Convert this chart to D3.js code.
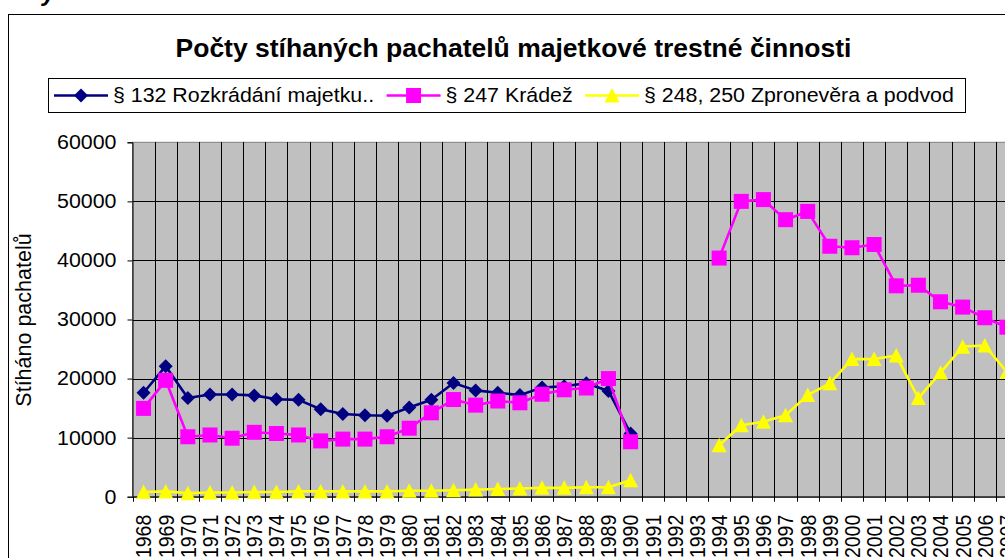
<!DOCTYPE html>
<html>
<head>
<meta charset="utf-8">
<script src="https://cdn.jsdelivr.net/npm/d3@7"></script>
<style>
  html, body { margin: 0; padding: 0; background: #fff; overflow: hidden; }
  svg { display: block; font-family: Arial, "Liberation Sans", sans-serif; }
</style>
</head>
<body>
<div id="chart"></div>
<script>
// roky 1968-2007
const years = d3.range(1968, 2008).map(String);

// § 132 Rozkrádání majetku.. (jen do roku 1990)
const rozkradani = [17600, 22100, 16700, 17300, 17300, 17150, 16500, 16400, 14800, 14000,
  13800, 13700, 15100, 16400, 19250, 18000, 17600, 17200, 18500, 18700,
  19200, 17900, 10700, null, null, null, null, null, null, null,
  null, null, null, null, null, null, null, null, null, null];

// § 247 Krádež
const kradez = [14950, 19700, 10150, 10450, 9900, 10900, 10700, 10450, 9450, 9750,
  9750, 10150, 11600, 14200, 16450, 15500, 16200, 15900, 17350, 18100,
  18400, 20000, 9300, null, null, null, 40400, 50000, 50300, 46900,
  48300, 42400, 42150, 42700, 35700, 35800, 33000, 32100, 30300, 28700];

// § 248, 250 Zpronevěra a podvod
const zpronevera = [800, 900, 600, 700, 700, 800, 800, 900, 900, 900,
  900, 900, 1000, 1000, 1100, 1200, 1300, 1400, 1500, 1500,
  1600, 1600, 2800, null, null, null, 8700, 12100, 12700, 13800,
  17200, 19200, 23300, 23300, 23900, 16700, 21000, 25400, 25600, 21100];

const seriesNames = ["§ 132 Rozkrádání majetku..", "§ 247 Krádež", "§ 248, 250 Zpronevěra a podvod"];
const yTicks = [0, 10000, 20000, 30000, 40000, 50000, 60000];

const width = 1005, height = 558;
const plot = { left: 132.5, right: 1018, top: 142.3, bottom: 496.7 };

const svg = d3.select("#chart").append("svg")
  .attr("width", width)
  .attr("height", height);

svg.append("rect").attr("width", width).attr("height", height).attr("fill", "#fff");

// odříznutý text nad grafem
svg.append("text")
  .attr("x", 42).attr("y", 1)
  .attr("font-size", 24).attr("font-weight", "bold").attr("font-style", "italic")
  .text("y");

// rámeček grafu
svg.append("rect")
  .attr("x", 8.5).attr("y", 14.5)
  .attr("width", 1100).attr("height", 700)
  .attr("fill", "none").attr("stroke", "#000");

svg.append("text")
  .attr("x", 513.5).attr("y", 57)
  .attr("text-anchor", "middle")
  .attr("font-size", 26.5).attr("font-weight", "bold")
  .text("Počty stíhaných pachatelů majetkové trestné činnosti");

const x = d3.scaleBand().domain(years).range([plot.left, plot.right]).padding(0);
const y = d3.scaleLinear().domain([0, 60000]).range([plot.bottom, plot.top]);
const cx = d => x(d) + x.bandwidth() / 2;

// plocha grafu
svg.append("rect")
  .attr("x", plot.left).attr("y", plot.top)
  .attr("width", plot.right - plot.left).attr("height", plot.bottom - plot.top)
  .attr("fill", "#c0c0c0").attr("stroke", "#808080");

const grid = svg.append("g").attr("shape-rendering", "crispEdges");
grid.selectAll("line.h")
  .data(yTicks.slice(1, -1))
  .join("line")
  .attr("class", "h")
  .attr("x1", plot.left).attr("x2", plot.right)
  .attr("y1", d => Math.round(y(d)) + 0.5).attr("y2", d => Math.round(y(d)) + 0.5)
  .attr("stroke", "#000");
grid.selectAll("line.v")
  .data(years.slice(1))
  .join("line")
  .attr("class", "v")
  .attr("x1", d => Math.round(x(d)) + 0.5).attr("x2", d => Math.round(x(d)) + 0.5)
  .attr("y1", plot.top).attr("y2", plot.bottom)
  .attr("stroke", "#000");

// osa Y
const yAxis = svg.append("g")
  .attr("transform", `translate(${plot.left},0)`)
  .call(d3.axisLeft(y).tickValues(yTicks).tickSize(5).tickFormat(d3.format("d")));
yAxis.select(".domain").attr("stroke", "#000");
yAxis.selectAll(".tick line").attr("stroke", "#000");
yAxis.selectAll(".tick text")
  .attr("x", 0)
  .attr("transform", "translate(-16,0) scale(1.07,1)")
  .attr("font-size", 20).attr("fill", "#000")
  .attr("font-family", "Arial, 'Liberation Sans', sans-serif");

svg.append("text")
  .attr("transform", "translate(31,320) rotate(-90)")
  .attr("text-anchor", "middle")
  .attr("font-size", 21.5)
  .text("Stíháno pachatelů");

// osa X
const xAxis = svg.append("g")
  .attr("transform", `translate(0,${plot.bottom})`)
  .call(d3.axisBottom(x).tickSize(0).tickSizeOuter(0));
xAxis.select(".domain").attr("stroke", "#000").attr("stroke-width", 1.2);
xAxis.selectAll(".tick text")
  .attr("x", 0).attr("y", 0).attr("dy", "0.35em")
  .attr("text-anchor", "end")
  .attr("transform", "translate(0,18) scale(1.15,1) rotate(-90)")
  .attr("font-size", 19.5).attr("fill", "#000")
  .attr("font-family", "Arial, 'Liberation Sans', sans-serif");
xAxis.selectAll("line.bt")
  .data(years)
  .join("line")
  .attr("class", "bt")
  .attr("x1", d => Math.round(x(d)) + 0.5).attr("x2", d => Math.round(x(d)) + 0.5)
  .attr("y1", 0).attr("y2", 5)
  .attr("stroke", "#000");

// značky
const diamond = "M0,-7L7,0L0,7L-7,0Z";
const square = "M-7.5,-7.5H7.5V7.5H-7.5Z";
const triangle = "M0,-7.5L7.5,7L-7.5,7Z";

const series = [
  { name: seriesNames[0], values: rozkradani, color: "#000080", marker: diamond },
  { name: seriesNames[1], values: kradez, color: "#ff00ff", marker: square },
  { name: seriesNames[2], values: zpronevera, color: "#ffff00", marker: triangle }
];

const line = d3.line()
  .defined(d => d.v != null)
  .x(d => cx(d.year))
  .y(d => y(d.v));

const plotG = svg.append("g");
series.forEach(s => {
  const pts = years.map((yr, i) => ({ year: yr, v: s.values[i] }));
  plotG.append("path")
    .datum(pts)
    .attr("d", line)
    .attr("fill", "none")
    .attr("stroke", s.color)
    .attr("stroke-width", 2.6)
    .attr("stroke-linejoin", "round");
  plotG.selectAll(null)
    .data(pts.filter(d => d.v != null))
    .join("path")
    .attr("d", s.marker)
    .attr("transform", d => `translate(${cx(d.year)},${y(d.v)})`)
    .attr("fill", s.color);
});

// legenda
const legend = svg.append("g");
legend.append("rect")
  .attr("x", 48.5).attr("y", 78.5)
  .attr("width", 917).attr("height", 34)
  .attr("fill", "#fff").attr("stroke", "#000");

let lx = 54;
series.forEach(s => {
  const g = legend.append("g");
  g.append("line")
    .attr("x1", lx).attr("x2", lx + 54)
    .attr("y1", 95.5).attr("y2", 95.5)
    .attr("stroke", s.color).attr("stroke-width", 2.6);
  g.append("path")
    .attr("d", s.marker)
    .attr("transform", `translate(${lx + 27},95.5)`)
    .attr("fill", s.color);
  const t = g.append("text")
    .attr("x", 0).attr("y", 0)
    .attr("transform", `translate(${lx + 59},102) scale(1.042,1)`)
    .attr("font-size", 20.5)
    .text(s.name);
  lx = lx + 59 + t.node().getComputedTextLength() * 1.042 + 12.5;
});
</script>
</body>
</html>
